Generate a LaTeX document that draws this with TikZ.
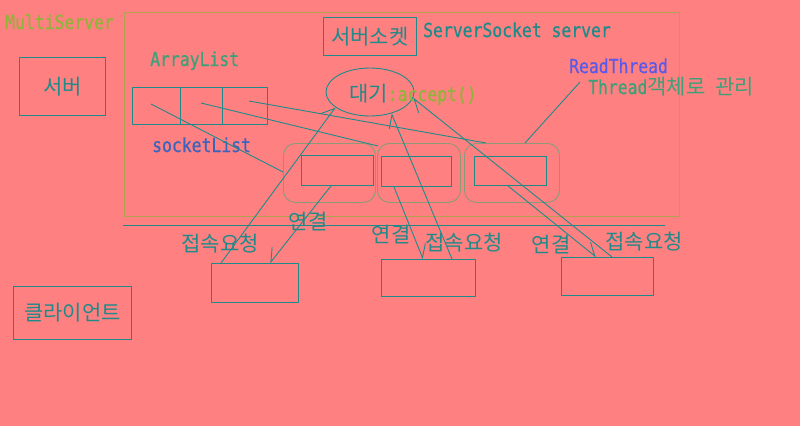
\documentclass[tikz,border=0pt]{standalone}
\usepackage{fontspec}
\usetikzlibrary{arrows.meta,shapes.geometric,calc}
\newfontfamily\monofam[FakeStretch=0.85,FakeBold=0.6]{DejaVu Sans Mono}
\newfontfamily\krfam{Noto Sans CJK KR}
\newcommand{\mtxt}[1]{{\monofam\fontsize{19.3}{20}\selectfont #1}}
\newcommand{\ktxt}[1]{{\krfam\fontsize{21}{22}\selectfont #1}}
\definecolor{bgc}{HTML}{FF8080}
\definecolor{linec}{HTML}{1F8A8A}
\definecolor{outerc}{HTML}{B4A050}
\definecolor{roundc}{HTML}{8C9A78}
\definecolor{olivec}{HTML}{8FB43A}
\definecolor{greenc}{HTML}{3CA078}
\definecolor{bluec}{HTML}{5A5AE6}
\definecolor{blueb}{HTML}{3C64BE}
\begin{document}
\begin{tikzpicture}[x=1pt,y=-1pt,
  ln/.style={draw=linec, line width=0.9pt},
  box/.style={draw=linec, line width=0.9pt, inner sep=0pt, anchor=north west, text=linec},
  rbox/.style={draw=roundc, line width=0.9pt, inner sep=0pt, anchor=north west, rounded corners=12pt},
  arrl/.style={ln, -{Straight Barb[left,length=12pt,width=16pt]}},
  arrr/.style={ln, -{Straight Barb[right,length=12pt,width=16pt]}},
  txt/.style={inner sep=0pt, anchor=base west},
  lbl/.style={inner sep=0pt, text=linec}]
\fill[bgc] (0,0) rectangle (800,426);
\useasboundingbox (0,0) rectangle (800,426);

% titles
\node[txt, text=olivec] (title) at (5,29) {\mtxt{MultiServer}};
\node[box, minimum width=86pt, minimum height=58pt] (server) at (19,57) {\ktxt{서버}};
\node[box, minimum width=118pt, minimum height=53pt] (client) at (13,286) {\ktxt{클라이언트}};

% outer server region
\node[draw=outerc, line width=0.9pt, inner sep=0pt, anchor=north west,
      minimum width=555pt, minimum height=204pt] (outer) at (124,12) {};

% server socket
\node[box, minimum width=93pt, minimum height=38pt] (ss) at (323,17) {\ktxt{서버소켓}};
\node[txt, text=linec] (sstxt) at (423,37) {\mtxt{ServerSocket server}};

% array list
\node[txt, text=greenc] (altxt) at (150,66) {\mtxt{ArrayList}};
\node[box, minimum width=48pt, minimum height=37pt] (a1) at (132,87) {};
\node[box, minimum width=42pt, minimum height=37pt] (a2) at (180,87) {};
\node[box, minimum width=45pt, minimum height=37pt] (a3) at (222,87) {};
\node[txt, text=blueb] (sltxt) at (152,152) {\mtxt{socketList}};

% wait ellipse
\node[ellipse, draw=linec, line width=0.9pt, inner sep=0pt,
      minimum width=88pt, minimum height=48pt] (wait) at (370,92) {};
\node[txt] (waittxt) at (349,101) {\textcolor{linec}{\ktxt{대기}}\textcolor{olivec}{\mtxt{:accept()}}};

% read thread
\node[txt, text=bluec] (rttxt) at (569,73) {\mtxt{ReadThread}};
\node[txt, text=greenc] (tmtxt) at (588,94) {\mtxt{Thread}\ktxt{객체로}\mtxt{ }\ktxt{관리}};
\coordinate (rtp) at (580,82);

% thread containers
\node[rbox, minimum width=92pt, minimum height=59pt] (t1) at (283,143) {};
\node[rbox, minimum width=83pt, minimum height=59pt] (t2) at (377,143) {};
\node[rbox, minimum width=95pt, minimum height=59pt] (t3) at (464,143) {};
\node[box, minimum width=72pt, minimum height=30pt] (r1) at (301,155) {};
\node[box, minimum width=70pt, minimum height=30pt] (r2) at (381,156) {};
\node[box, minimum width=72pt, minimum height=29pt] (r3) at (474,156) {};

% separator
\coordinate (sepL) at (123,225);
\coordinate (sepR) at (665,225);
\draw[ln] (sepL) -- (sepR);

% clients
\node[box, minimum width=87pt, minimum height=39pt] (c1) at (211,263) {};
\node[box, minimum width=94pt, minimum height=37pt] (c2) at (381,259) {};
\node[box, minimum width=92pt, minimum height=38pt] (c3) at (561,257) {};

% labels
\node[lbl] (req1) at (220,244) {\ktxt{접속요청}};
\node[lbl] (req2) at (464,243) {\ktxt{접속요청}};
\node[lbl] (req3) at (644,242) {\ktxt{접속요청}};
\node[lbl] (con1) at (308,222) {\ktxt{연결}};
\node[lbl] (con2) at (391,235) {\ktxt{연결}};
\node[lbl] (con3) at (551,245) {\ktxt{연결}};

% array list -> threads
\draw[ln] ($(a1.north west)+(19,17)$) -- ($(t1.north west)+(0,29)$);
\draw[ln] ($(a2.north west)+(21,16)$) -- ($(t2.north west)+(1,3)$);
\draw[ln] ($(a3.north west)+(27,14)$) -- ($(t3.north west)+(22,0)$);
\draw[ln] (rtp) -- ($(t3.north west)+(61,0)$);

% connection requests
\draw[arrl] ($(c1.north west)+(10,0)$) -- (wait.204);
\draw[arrl] ($(c2.north west)+(71,0)$) -- (wait.-45);
\draw[arrl] ($(c3.north west)+(51,0)$) -- (wait.-8);

% connections
\draw[arrr] ($(r1.south west)+(30,0)$) -- ($(c1.north west)+(59,0)$);
\draw[arrl] ($(r2.south west)+(13,0)$) -- ($(c2.north west)+(42,0)$);
\draw[arrl] ($(r3.south west)+(34,0)$) -- ($(c3.north west)+(35,0)$);
\end{tikzpicture}
\end{document}
